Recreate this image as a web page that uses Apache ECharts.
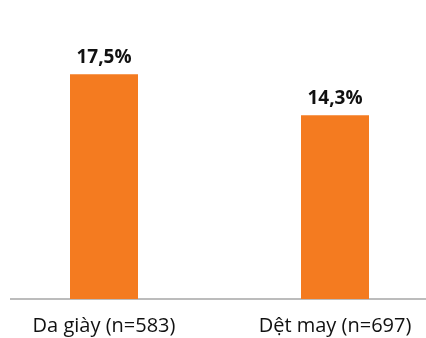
<!DOCTYPE html>
<html>
<head>
<meta charset="utf-8">
<script src="https://cdn.jsdelivr.net/npm/echarts@6/dist/echarts.min.js"></script>
<style>
  html, body { margin: 0; padding: 0; background: #fff; }
  #chart { width: 426px; height: 338px; }
</style>
</head>
<body>
<div id="chart"></div>
<script>
// data
var categories = ['Da giày (n=583)', 'Dệt may (n=697)']
var values = [17.5, 14.3]

var chart = echarts.init(document.getElementById('chart'))
chart.setOption({
    animation: false,
    grid: { left: -11.5, width: 462, top: 42, height: 257, outerBoundsMode: 'none', containLabel: false },
    xAxis: {
        type: 'category',
        data: categories,
        axisLine: { show: false },
        axisTick: { show: false },
        axisLabel: {
            color: '#111',
            fontFamily: 'Open Sans',
            fontSize: 20,
            margin: 17
        }
    },
    yAxis: {
        type: 'value',
        min: 0,
        max: 20,
        show: false
    },
    graphic: [{
        type: 'line',
        shape: { x1: 10, y1: 299, x2: 426, y2: 299 },
        style: { stroke: '#a6a6a6', lineWidth: 1.5 }
    }],
    series: [{
        type: 'bar',
        data: values,
        barWidth: 68,
        itemStyle: { color: '#f47b20' },
        label: {
            show: true,
            position: 'top',
            distance: 7,
            color: '#111',
            fontFamily: 'Open Sans',
            fontWeight: 'bold',
            fontSize: 19,
            formatter: function (p) {
                return p.value.toFixed(1).replace('.', ',') + '%'
            }
        }
    }]
})
</script>
</body>
</html>
